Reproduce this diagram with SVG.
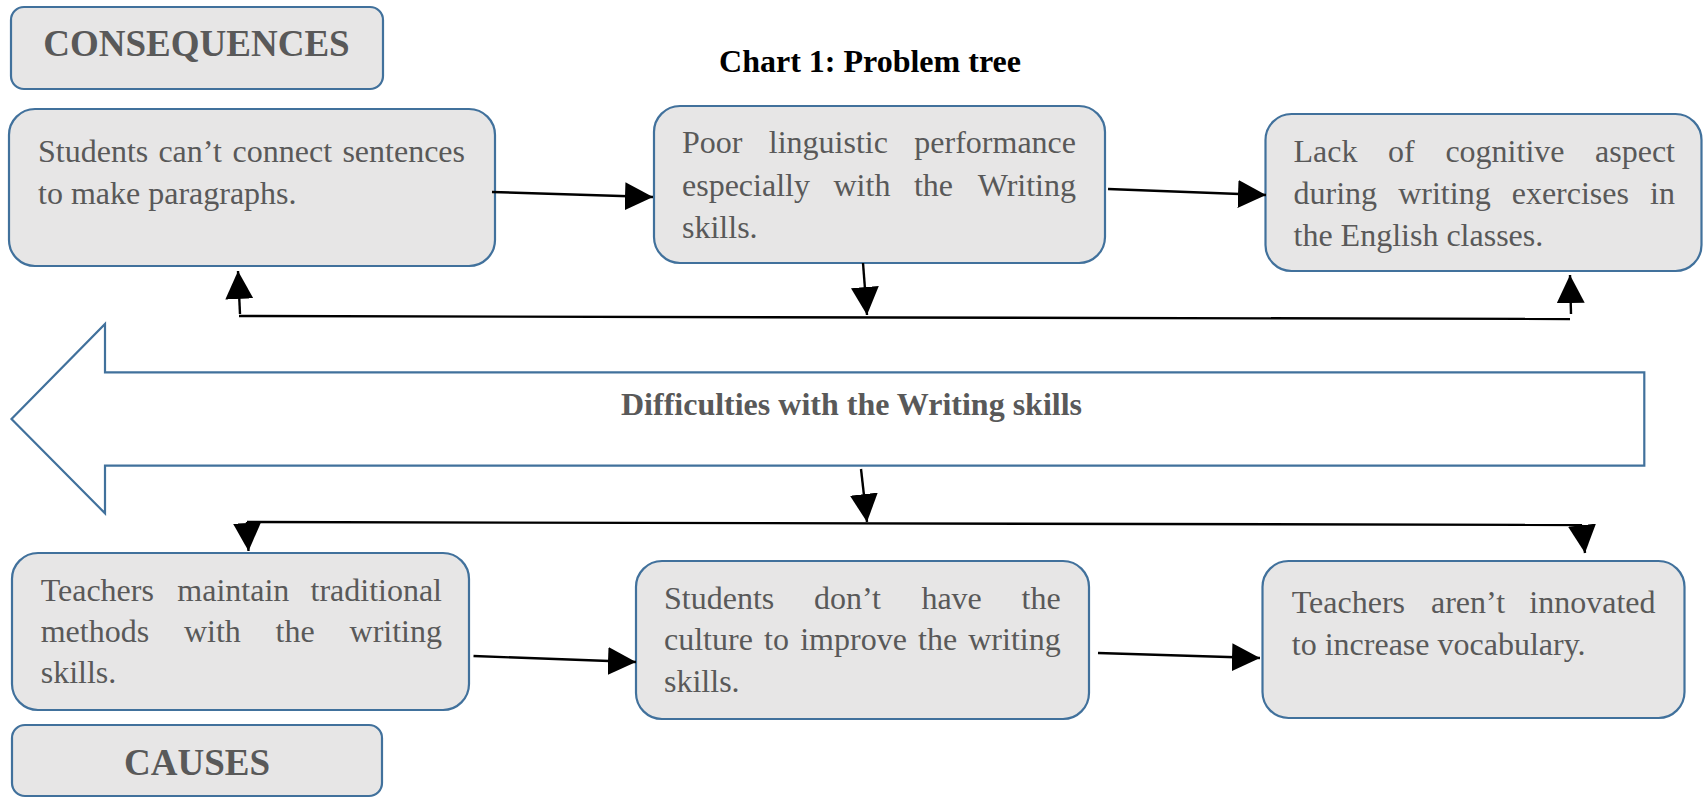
<svg xmlns="http://www.w3.org/2000/svg" width="1704" height="798" viewBox="0 0 1704 798">
<style>
.box{fill:#E7E6E6;stroke:#41719C;stroke-width:2.2}
.t{font-family:"Liberation Serif","Times New Roman",serif;font-size:32px;fill:#595959}
.h{font-family:"Liberation Serif","Times New Roman",serif;font-weight:bold;fill:#595959}
.e{text-anchor:end}
.c{stroke:#000;stroke-width:2.4;fill:none}
</style>
<defs>
<marker id="ah" markerUnits="userSpaceOnUse" markerWidth="28" markerHeight="28" refX="26" refY="13" orient="auto" viewBox="0 0 26 26">
<path d="M0,0 L26,13 L0,26 Z" fill="#000"/>
</marker>
</defs>
<rect width="1704" height="798" fill="#fff"/>
<text x="870" y="72" text-anchor="middle" style="font-family:'Liberation Serif','Times New Roman',serif;font-weight:bold;font-size:32px;fill:#000">Chart 1: Problem tree</text>

<g id="consequences">
<rect class="box" x="11" y="7" width="372" height="82" rx="13"/>
<text class="h" x="196.5" y="56" text-anchor="middle" font-size="37">CONSEQUENCES</text>
</g>

<g id="c1">
<rect class="box" x="9" y="109" width="486" height="157" rx="26"/>
<text class="t" y="162"><tspan x="38">Students</tspan><tspan x="158.4">can’t</tspan><tspan x="232.6">connect</tspan><tspan x="465" text-anchor="end">sentences</tspan></text>
<text class="t" x="38" y="204">to make paragraphs.</text>
</g>

<g id="c2">
<rect class="box" x="654" y="106" width="451" height="157" rx="26"/>
<text class="t" y="153"><tspan x="682">Poor</tspan><tspan x="768.8">linguistic</tspan><tspan x="1076" text-anchor="end">performance</tspan></text>
<text class="t" y="196"><tspan x="682">especially</tspan><tspan x="833.5">with</tspan><tspan x="913.9">the</tspan><tspan x="1076" text-anchor="end">Writing</tspan></text>
<text class="t" x="682" y="238">skills.</text>
</g>

<g id="c3">
<rect class="box" x="1265.5" y="114" width="436" height="157" rx="26"/>
<text class="t" y="162"><tspan x="1293.5">Lack</tspan><tspan x="1388.1">of</tspan><tspan x="1445.4">cognitive</tspan><tspan x="1675" text-anchor="end">aspect</tspan></text>
<text class="t" y="203.5"><tspan x="1293.5">during</tspan><tspan x="1398.2">writing</tspan><tspan x="1511.7">exercises</tspan><tspan x="1675" text-anchor="end">in</tspan></text>
<text class="t" x="1293.5" y="246">the English classes.</text>
</g>

<g id="problem">
<path d="M11.5,419 L105,324 L105,372.3 L1644.3,372.3 L1644.3,465.7 L105,465.7 L105,513.3 Z" fill="#fff" stroke="#41719C" stroke-width="2.2"/>
<text class="h" x="851.5" y="415" text-anchor="middle" font-size="32">Difficulties with the Writing skills</text>
</g>

<g id="k1">
<rect class="box" x="12" y="553" width="457" height="157" rx="26"/>
<text class="t" y="601"><tspan x="40.7">Teachers</tspan><tspan x="177.3">maintain</tspan><tspan x="442" text-anchor="end">traditional</tspan></text>
<text class="t" y="642"><tspan x="40.7">methods</tspan><tspan x="183.9">with</tspan><tspan x="275.6">the</tspan><tspan x="442" text-anchor="end">writing</tspan></text>
<text class="t" x="40.7" y="683">skills.</text>
</g>

<g id="k2">
<rect class="box" x="636" y="561" width="453" height="158" rx="26"/>
<text class="t" y="608.5"><tspan x="664">Students</tspan><tspan x="814">don’t</tspan><tspan x="921.4">have</tspan><tspan x="1060.7" text-anchor="end">the</tspan></text>
<text class="t" y="650"><tspan x="664">culture</tspan><tspan x="764.1">to</tspan><tspan x="800.2">improve</tspan><tspan x="918.1">the</tspan><tspan x="1060.7" text-anchor="end">writing</tspan></text>
<text class="t" x="664" y="692">skills.</text>
</g>

<g id="k3">
<rect class="box" x="1262.5" y="561" width="422" height="157" rx="26"/>
<text class="t" y="612.5"><tspan x="1291.8">Teachers</tspan><tspan x="1431">aren’t</tspan><tspan x="1655.5" text-anchor="end">innovated</tspan></text>
<text class="t" x="1291.8" y="654.5">to increase vocabulary.</text>
</g>

<g id="causes">
<rect class="box" x="12" y="725" width="370" height="71" rx="13"/>
<text class="h" x="197" y="775" text-anchor="middle" font-size="37">CAUSES</text>
</g>

<g id="connectors">
<line class="c" x1="492" y1="192" x2="653" y2="197" marker-end="url(#ah)"/>
<line class="c" x1="1108" y1="189" x2="1266" y2="195" marker-end="url(#ah)"/>
<line class="c" x1="863" y1="263" x2="867" y2="315" marker-end="url(#ah)"/>
<line class="c" x1="239" y1="316" x2="1570" y2="319"/>
<line class="c" x1="240" y1="314" x2="238" y2="271" marker-end="url(#ah)"/>
<line class="c" x1="1571" y1="314" x2="1570" y2="275" marker-end="url(#ah)"/>
<line class="c" x1="861" y1="469" x2="867" y2="522" marker-end="url(#ah)"/>
<line class="c" x1="247" y1="522" x2="1582" y2="525"/>
<line class="c" x1="247" y1="522" x2="248.5" y2="551" marker-end="url(#ah)"/>
<line class="c" x1="1582" y1="525" x2="1585" y2="553" marker-end="url(#ah)"/>
<line class="c" x1="473.5" y1="656" x2="636" y2="662" marker-end="url(#ah)"/>
<line class="c" x1="1098" y1="653" x2="1260" y2="658" marker-end="url(#ah)"/>
</g>
</svg>
